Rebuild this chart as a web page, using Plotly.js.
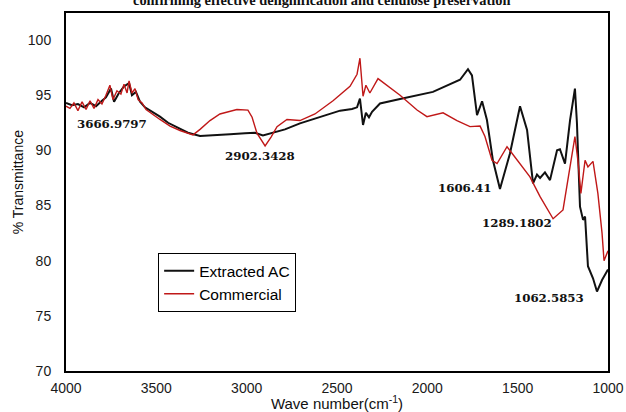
<!DOCTYPE html>
<html>
<head>
<meta charset="utf-8">
<script src="https://cdn.plot.ly/plotly-3.0.1.min.js"></script>
<style>html,body{margin:0;padding:0;background:#fff;}#chart{width:626px;height:412px;}</style>
</head>
<body>
<div id="chart"></div>
<script>
// Extracted AC (black curve)
const extractedWn = [4000,3967,3934,3900,3867,3834,3801,3779,3751,3734,3707,3679,3651,3635,3613,3590,3563,3524,3480,3435,3386,3325,3258,3175,3092,3009,2954,2910,2860,2788,2705,2594,2483,2417,2389,2373,2356,2340,2323,2306,2262,2151,1969,1819,1775,1753,1725,1697,1670,1637,1598,1543,1487,1448,1415,1393,1376,1349,1321,1282,1266,1238,1210,1183,1172,1155,1138,1127,1111,1083,1061,1033,1006,1000];
const extractedT = [94.3,94.1,94.2,93.9,94.3,94.0,94.5,94.8,95.6,94.4,95.2,95.8,96.1,95.0,95.3,94.4,93.9,93.5,93.05,92.5,92.1,91.6,91.3,91.35,91.45,91.55,91.6,91.35,91.55,91.9,92.45,93.0,93.6,93.75,93.9,94.7,92.3,93.4,93.0,93.5,94.25,94.65,95.3,96.4,97.35,96.8,93.2,94.45,92.75,89.1,86.5,89.7,94.0,91.85,87.0,87.8,87.5,88.0,87.3,90.0,90.1,88.8,92.75,95.6,92.5,84.9,83.7,84.0,79.5,78.4,77.2,78.25,79.0,79.2];

// Commercial (red curve)
const commercialWn = [4000,3978,3956,3934,3911,3889,3867,3845,3823,3801,3779,3757,3740,3718,3696,3679,3662,3651,3635,3618,3601,3579,3557,3524,3480,3424,3369,3297,3258,3203,3148,3054,2993,2970,2943,2898,2865,2832,2777,2705,2622,2522,2428,2389,2373,2356,2340,2318,2273,2151,2057,2002,1913,1836,1764,1708,1681,1642,1614,1559,1526,1487,1432,1376,1304,1249,1221,1183,1166,1150,1127,1111,1083,1056,1033,1022,1000];
const commercialT = [94.0,93.8,94.3,93.6,94.4,93.7,94.5,93.8,94.6,94.2,95.0,95.9,94.6,95.4,95.1,96.0,95.2,96.3,95.2,95.6,94.6,94.3,93.7,93.3,92.8,92.2,91.8,91.4,91.9,92.7,93.3,93.7,93.65,93.0,91.55,90.4,91.2,92.15,92.8,92.7,93.3,94.5,95.8,96.9,98.35,94.9,95.9,95.2,96.5,95.0,93.66,93.05,93.4,92.7,92.15,92.2,91.25,89.1,88.8,90.33,89.6,88.8,87.6,85.8,83.8,84.6,87.6,91.25,89.0,86.1,89.1,88.5,89.0,86.1,82.5,80.0,80.9];

// Peak labels
const peakLabels = ["3666.9797","2902.3428","1606.41","1289.1802","1062.5853"];
const peakX = [3745,2926,1797,1504,1327];
const peakY = [92.4,89.5,86.6,83.4,76.6];

const seriesNames = ["Extracted AC","Commercial"];
const xTicks = [4000,3500,3000,2500,2000,1500,1000];
const yTicks = [70,75,80,85,90,95,100];

const traces = [
  {x: extractedWn, y: extractedT, name: seriesNames[0], type: 'scatter', mode: 'lines',
   line: {color: '#111111', width: 2}, legendrank: 1},
  {x: commercialWn, y: commercialT, name: seriesNames[1], type: 'scatter', mode: 'lines',
   line: {color: '#c01818', width: 1.4}, legendrank: 2}
];

const annotations = peakLabels.map((t, i) => ({
  x: peakX[i], y: peakY[i], xref: 'x', yref: 'y', text: '<b>' + t + '</b>',
  showarrow: false, font: {family: 'DejaVu Serif', size: 11.8, color: '#111'}
}));
annotations.push({
  x: 0.471, y: 1.0, xref: 'paper', yref: 'paper', xanchor: 'center', yanchor: 'bottom', yshift: 3,
  text: '<b>confirming effective delignification and cellulose preservation</b>',
  showarrow: false, font: {family: 'Liberation Serif', size: 14.4, color: '#111'}
});
annotations.push({
  x: -0.088, y: 0.528, xref: 'paper', yref: 'paper', xanchor: 'center', yanchor: 'middle',
  text: '% Transmittance', textangle: -90, showarrow: false,
  font: {family: 'Liberation Sans', size: 14, color: '#111'}
});

const layout = {
  width: 626, height: 412,
  margin: {l: 66, r: 18, t: 13, b: 41, pad: 0},
  paper_bgcolor: '#fff', plot_bgcolor: '#fff',
  showlegend: true,
  legend: {x: 0.17, y: 0.247, xanchor: 'left', yanchor: 'middle',
    bgcolor: '#fff', bordercolor: '#000', borderwidth: 1,
    font: {family: 'Liberation Sans', size: 15.5, color: '#000'},
    tracegroupgap: 0, itemwidth: 30},
  xaxis: {range: [4000, 1000], tickvals: xTicks, ticktext: xTicks.map(String),
    showgrid: false, zeroline: false, showline: true, linecolor: '#000', linewidth: 2, mirror: true,
    ticks: '', ticklabelstandoff: 3,
    tickfont: {family: 'Liberation Sans', size: 14, color: '#1a1a1a'},
    title: {text: 'Wave number(cm<sup>-1</sup>)', standoff: 1,
      font: {family: 'Liberation Sans', size: 15, color: '#111'}}},
  yaxis: {range: [70, 102.45], tickvals: yTicks, ticktext: yTicks.map(String),
    showgrid: false, zeroline: false, showline: true, linecolor: '#000', linewidth: 2, mirror: true,
    ticks: '', ticklabelstandoff: 10,
    tickfont: {family: 'Liberation Sans', size: 14, color: '#1a1a1a'}},
  annotations: annotations
};

Plotly.newPlot('chart', traces, layout, {displayModeBar: false, staticPlot: true});
</script>
</body>
</html>
